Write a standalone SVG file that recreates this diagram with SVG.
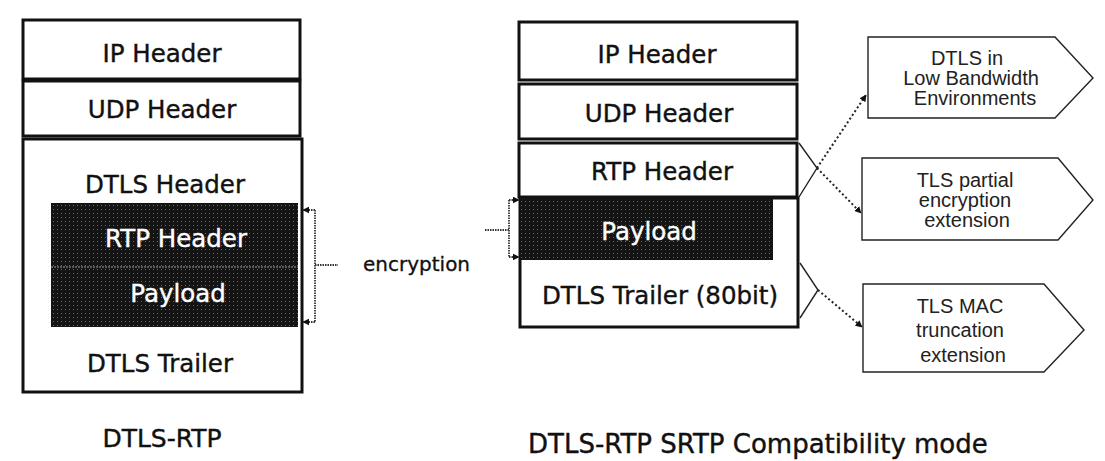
<svg xmlns="http://www.w3.org/2000/svg" width="1105" height="461" viewBox="0 0 1105 461">
  <style>
    .box { fill: #ffffff; stroke: #111111; stroke-width: 3; }
    .dark { fill: url(#stipple); stroke: none; }
    .lbl { font-family: "DejaVu Sans", "Liberation Sans", sans-serif; font-size: 24.5px; fill: #111111; stroke: #111111; stroke-width: 0.4; text-anchor: middle; }
    .inv { fill: #ffffff; stroke: #ffffff; }
    .cap { font-family: "DejaVu Sans", "Liberation Sans", sans-serif; font-size: 26px; fill: #111111; stroke: #111111; stroke-width: 0.4; }
    .note { font-family: "Liberation Sans", Arial, sans-serif; font-size: 20px; fill: #222222; text-anchor: middle; }
    .tag { fill: #ffffff; stroke: #222222; stroke-width: 1.4; }
    .brace { fill: none; stroke: #333333; stroke-width: 1.8; stroke-dasharray: 1.5 1; }
    .dot { fill: none; stroke: #222222; stroke-width: 2; stroke-dasharray: 2 2.5; }
    .solid { fill: none; stroke: #222222; stroke-width: 1.4; }
  </style>
  <defs>
    <!-- halftone fill used for the encrypted blocks -->
    <pattern id="stipple" width="4" height="4" patternUnits="userSpaceOnUse">
      <rect width="4" height="4" fill="#141414"/>
      <rect x="1" y="1" width="1" height="1" fill="#6a6a6a"/>
    </pattern>
    <marker id="arr" viewBox="0 0 10 10" refX="9" refY="5" markerWidth="7" markerHeight="7" orient="auto" markerUnits="userSpaceOnUse">
      <path d="M0,0 L10,5 L0,10 z" fill="#111111"/>
    </marker>
  </defs>

  <!-- Left stack: DTLS-RTP -->
  <g id="left-ip">
    <rect class="box" x="23" y="20" width="277" height="59"/>
    <text class="lbl" x="162" y="62">IP Header</text>
  </g>
  <g id="left-udp">
    <rect class="box" x="23" y="81" width="277" height="55"/>
    <text class="lbl" x="162" y="118">UDP Header</text>
  </g>
  <g id="left-dtls">
    <rect class="box" x="23" y="139" width="279" height="253"/>
    <text class="lbl" x="165" y="193">DTLS Header</text>
    <text class="lbl" x="160" y="372">DTLS Trailer</text>
  </g>
  <g id="left-rtp">
    <rect class="dark" x="51" y="203" width="247" height="64"/>
    <text class="lbl inv" x="176" y="247">RTP Header</text>
  </g>
  <g id="left-payload">
    <rect class="dark" x="51" y="267" width="247" height="60"/>
    <line x1="51" y1="267" x2="298" y2="267" stroke="#5a5a5a" stroke-width="2" stroke-dasharray="2 1"/>
    <text class="lbl inv" x="178" y="302">Payload</text>
  </g>
  <g id="left-caption">
    <text class="lbl" x="162" y="447" style="font-size:25px">DTLS-RTP</text>
  </g>

  <!-- encryption label -->
  <g id="encryption">
    <text class="cap" x="363" y="271" style="font-size:20px;stroke-width:0.3">encryption</text>
  </g>

  <!-- Right stack: DTLS-RTP SRTP compatibility mode -->
  <g id="right-ip">
    <rect class="box" x="519" y="22" width="278" height="58"/>
    <text class="lbl" x="657" y="63">IP Header</text>
  </g>
  <g id="right-udp">
    <rect class="box" x="519" y="84" width="278" height="55"/>
    <text class="lbl" x="659" y="122">UDP Header</text>
  </g>
  <g id="right-rtp">
    <rect class="box" x="519" y="143" width="278" height="54"/>
    <text class="lbl" x="662" y="180">RTP Header</text>
  </g>
  <g id="right-trailer">
    <rect class="box" x="520" y="198" width="278" height="129"/>
    <text class="lbl" x="660" y="304">DTLS Trailer (80bit)</text>
  </g>
  <g id="right-payload">
    <rect class="dark" x="520" y="198" width="253" height="62"/>
    <text class="lbl inv" x="649" y="240">Payload</text>
  </g>
  <g id="right-caption">
    <text class="cap" x="528" y="453">DTLS-RTP SRTP Compatibility mode</text>
  </g>

  <!-- Extension callouts -->
  <g id="ext-lowbw">
    <path class="tag" d="M868,37 H1055 L1093,78 L1055,118 H868 Z"/>
    <text class="note" x="967" y="65">DTLS in</text>
    <text class="note" x="971" y="85">Low Bandwidth</text>
    <text class="note" x="975" y="105">Environments</text>
  </g>
  <g id="ext-partial">
    <path class="tag" d="M862,158 H1058 L1093,200 L1058,240 H862 Z"/>
    <text class="note" x="965" y="187">TLS partial</text>
    <text class="note" x="965" y="207">encryption</text>
    <text class="note" x="967" y="227">extension</text>
  </g>
  <g id="ext-mac">
    <path class="tag" d="M863,284 H1044 L1084,330 L1044,372 H863 Z"/>
    <text class="note" x="960" y="313">TLS MAC</text>
    <text class="note" x="960" y="337">truncation</text>
    <text class="note" x="963" y="362">extension</text>
  </g>

  <!-- Connectors -->
  <g id="connectors">
    <!-- encryption braces -->
    <path class="brace" d="M315,210 V322"/>
    <path class="brace" d="M315,210 H303" marker-end="url(#arr)"/>
    <path class="brace" d="M315,322 H303" marker-end="url(#arr)"/>
    <path class="brace" d="M315,265 H338"/>

    <path class="brace" d="M509,200 V257"/>
    <path class="brace" d="M509,200 H519" marker-end="url(#arr)"/>
    <path class="brace" d="M509,257 H519" marker-end="url(#arr)"/>
    <path class="brace" d="M485,230 H509"/>

    <!-- RTP header fan-out -->
    <path class="solid" d="M799,143 L817,168 L799,197"/>
    <path class="dot" d="M817,168 L866,95" marker-end="url(#arr)"/>
    <path class="dot" d="M817,168 L861,213" marker-end="url(#arr)"/>

    <!-- trailer fan-out -->
    <path class="solid" d="M800,263 L818,290 L800,318"/>
    <path class="dot" d="M818,290 L862,327" marker-end="url(#arr)"/>
  </g>
</svg>
